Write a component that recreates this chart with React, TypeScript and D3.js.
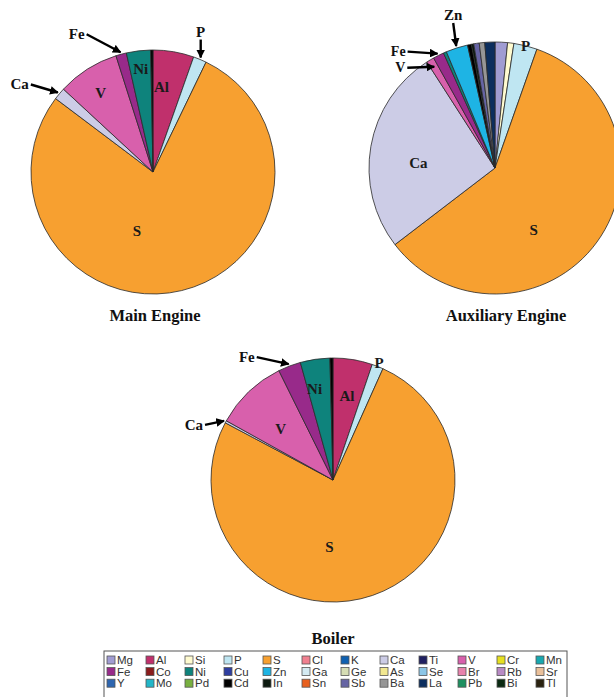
import React from 'react';
import * as d3 from 'd3';

// Elements in legend / slice order (clockwise from 12 o'clock)
const elements = ['Mg','Al','Si','P','S','Cl','K','Ca','Ti','V','Cr','Mn','Fe','Co','Ni','Cu','Zn','Ga','Ge','As','Se','Br','Rb','Sr','Y','Mo','Pd','Cd','In','Sn','Sb','Ba','La','Pb','Bi','Tl'];

const elementColors = ['#A09CD2','#C0306C','#FFFBD0','#BFE6F2','#F7A030','#F08090','#1060B0','#CCCCE6','#202060','#D860AC','#E6E020','#18A8B0',
  '#982A8A','#8A1C1C','#0E837C','#2E3EA0','#1EB4E4','#D4EAF2','#D6DDB4','#F2E890','#8CC6E6','#E882AC','#B88AC4','#EAC09A',
  '#2E66B0','#22B6C8','#78B040','#000000','#0C1A10','#E8601E','#6664A4','#969696','#0C2E5E','#1E9060','#0A2A12','#2A2210'];

//                     Mg   Al   Si   P     S     Cl K  Ca    Ti V    Cr Mn Fe   Co Ni   Cu Zn   Ga Ge As Se Br Rb Sr Y  Mo Pd Cd   In   Sn Sb   Ba   La   Pb Bi Tl
const mainEngine   = [0,   5.4, 0,   1.75, 78.0, 0, 0, 1.6,  0, 8.2, 0, 0, 1.4, 0, 3.2, 0, 0,   0, 0, 0, 0, 0, 0, 0, 0, 0, 0, 0.3, 0,   0, 0,   0,   0,   0, 0, 0];
const auxEngine    = [1.6, 0,   0.8, 3.0,  59.2, 0, 0, 26.3, 0, 1.0, 0, 0, 1.4, 0, 0.4, 0, 2.8, 0, 0, 0, 0, 0, 0, 0, 0, 0, 0, 0.5, 0.3, 0, 0.7, 0.7, 1.3, 0, 0, 0];
const boiler       = [0,   5.2, 0,   1.5,  75.9, 0, 0, 0.3,  0, 9.6, 0, 0, 3.0, 0, 3.9, 0, 0,   0, 0, 0, 0, 0, 0, 0, 0, 0, 0, 0.4, 0,   0, 0,   0,   0,   0, 0, 0];

const chartTitles = ['Main Engine', 'Auxiliary Engine', 'Boiler'];
const chartValues = [mainEngine, auxEngine, boiler];

// layout
const charts = [
  { cx: 153, cy: 172, r: 122, titleX: 155, titleY: 321 },
  { cx: 495, cy: 168, r: 126, titleX: 506, titleY: 321 },
  { cx: 333, cy: 480, r: 122, titleX: 333, titleY: 644 },
];

// labels inside slices: chart, element, radius fraction, angle shift (deg)
const innerLabels = [
  { c: 0, el: 'S', f: 0.5, s: 29 },
  { c: 0, el: 'V', f: 0.78, s: -1 },
  { c: 0, el: 'Ni', f: 0.85, s: 0 },
  { c: 0, el: 'Al', f: 0.7, s: -4 },
  { c: 1, el: 'Ca', f: 0.61, s: -6 },
  { c: 1, el: 'S', f: 0.58, s: 22 },
  { c: 1, el: 'P', f: 1.0, s: 0 },
  { c: 2, el: 'S', f: 0.55, s: 22 },
  { c: 2, el: 'V', f: 0.6, s: -2 },
  { c: 2, el: 'Ni', f: 0.76, s: -3 },
  { c: 2, el: 'Al', f: 0.7, s: 0 },
  { c: 2, el: 'P', f: 1.03, s: 0 },
];

// arrow annotations: head at slice mid-angle (radius R + hr), tail offset (dx, dy)
const arrowLabels = [
  { c: 0, el: 'Fe', hr: 2, dx: -34, dy: -18, pos: 'left' },
  { c: 0, el: 'P', hr: 2, dx: 0, dy: -18, pos: 'top' },
  { c: 0, el: 'Ca', hr: 2, dx: -27, dy: -8, pos: 'left' },
  { c: 1, el: 'Zn', hr: 2, dx: -3, dy: -23, pos: 'top' },
  { c: 1, el: 'Fe', hr: 2, dx: -30, dy: -2, pos: 'left' },
  { c: 1, el: 'V', hr: -8, dx: -27, dy: 1, pos: 'left' },
  { c: 2, el: 'Fe', hr: 2, dx: -32, dy: -7, pos: 'left' },
  { c: 2, el: 'Ca', hr: 2, dx: -19, dy: 4, pos: 'left' },
];

const serif = '"Liberation Serif", "Times New Roman", serif';
const sans = '"Liberation Sans", Arial, sans-serif';

export default function App() {
  const pie = d3.pie<number>().sort(null).value((d) => d);
  const pies = chartValues.map((vals) => pie(vals));

  const polar = (c: number, angle: number, rad: number) => {
    const ch = charts[c];
    return [ch.cx + rad * Math.sin(angle), ch.cy - rad * Math.cos(angle)];
  };
  const midAngle = (c: number, el: string) => {
    const a = pies[c][elements.indexOf(el)];
    return (a.startAngle + a.endAngle) / 2;
  };

  return (
    <div style={{ position: 'absolute', left: 0, top: 0 }}>
      <svg width={614} height={697} style={{ display: 'block', background: '#fff' }}>
        <defs>
          <marker id="ah" viewBox="0 0 10 10" refX="9" refY="5" markerWidth="3.6" markerHeight="3.6" orient="auto">
            <path d="M0,0 L10,5 L0,10 z" fill="#000" />
          </marker>
        </defs>
        {charts.map((ch, ci) => {
          const arc = d3.arc<d3.PieArcDatum<number>>().innerRadius(0).outerRadius(ch.r);
          return (
            <g key={ci}>
              <g transform={`translate(${ch.cx},${ch.cy})`}>
                {pies[ci].filter((d) => d.value > 0).map((d) => (
                  <path key={d.index} d={arc(d) || ''} fill={elementColors[d.index]} stroke="#2a2a2a" strokeWidth={0.8} strokeLinejoin="round" />
                ))}
              </g>
              <text x={ch.titleX} y={ch.titleY} textAnchor="middle" fontFamily={serif} fontWeight="bold" fontSize={16.5} fill="#111">
                {chartTitles[ci]}
              </text>
            </g>
          );
        })}
        {innerLabels.map((l, i) => {
          const ang = midAngle(l.c, l.el) + (l.s * Math.PI) / 180;
          const [x, y] = polar(l.c, ang, charts[l.c].r * l.f);
          return (
            <text key={'il' + i} x={x} y={y} textAnchor="middle" dominantBaseline="central" fontFamily={serif} fontWeight="bold" fontSize={15} fill="#1a1a1a">
              {l.el}
            </text>
          );
        })}
        {arrowLabels.map((a, i) => {
          const ang = midAngle(a.c, a.el);
          const [hx, hy] = polar(a.c, ang, charts[a.c].r + a.hr);
          const tx = hx + a.dx;
          const ty = hy + a.dy;
          const lx = a.pos === 'left' ? tx - 2 : tx;
          const ly = a.pos === 'left' ? ty : ty - 8;
          return (
            <g key={'al' + i}>
              <line x1={tx} y1={ty} x2={hx} y2={hy} stroke="#000" strokeWidth={2.4} markerEnd="url(#ah)" />
              <text x={lx} y={ly} textAnchor={a.pos === 'left' ? 'end' : 'middle'} dominantBaseline="central" fontFamily={serif} fontWeight="bold" fontSize={a.c === 1 && a.pos === 'left' ? 14 : 15} fill="#111">
                {a.el}
              </text>
            </g>
          );
        })}
        <g>
          <rect x={104} y={651} width={463} height={50} fill="#fff" stroke="#555" strokeWidth={1} />
          {elements.map((el, i) => {
            const col = i % 12;
            const row = Math.floor(i / 12);
            const x = 107 + col * 39;
            const y = 660 + row * 11.6;
            return (
              <g key={'lg' + i}>
                <rect x={x} y={y - 4} width={8} height={8} fill={elementColors[i]} stroke="#555" strokeWidth={0.8} />
                <text x={x + 10} y={y} dominantBaseline="central" fontFamily={sans} fontSize={11.5} fill="#333">
                  {el}
                </text>
              </g>
            );
          })}
        </g>
      </svg>
    </div>
  );
}
